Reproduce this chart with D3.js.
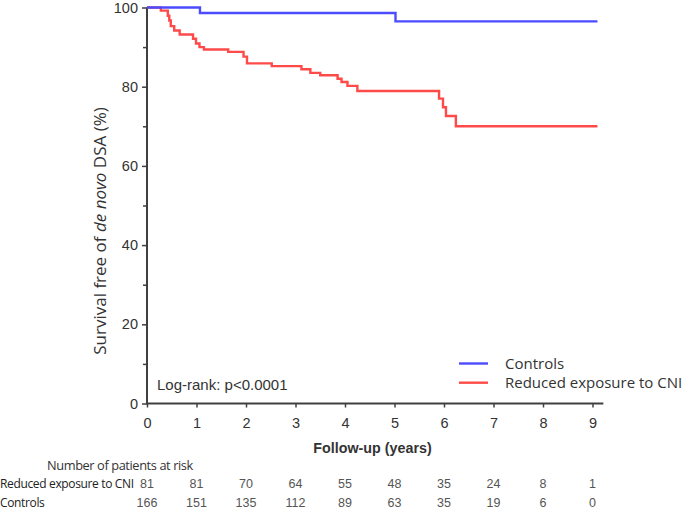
<!DOCTYPE html>
<html><head><meta charset="utf-8">
<script src="https://cdn.jsdelivr.net/npm/d3@7"></script>
<style>body{margin:0;background:#fff}svg{display:block}</style>
</head><body>
<script>
// Data
const controlsTimes = [0, 1.07, 5.02];
const controlsVals  = [100, 98.6, 96.5];
const reducedTimes = [0, 0.28, 0.42, 0.45, 0.48, 0.55, 0.66, 0.93, 0.99, 1.06, 1.15, 1.64, 1.95, 2.02, 2.52, 3.12, 3.3, 3.5, 3.85, 3.93, 4.05, 4.25, 5.9, 5.98, 6.04, 6.24];
const reducedVals  = [100, 99.2, 97.9, 96.7, 95.3, 94.2, 93.2, 92.1, 90.9, 90.0, 89.4, 88.8, 87.6, 85.9, 85.2, 84.4, 83.5, 82.9, 82.0, 81.2, 80.2, 78.9, 77.0, 74.8, 72.6, 70.0];
const endTime = 9.1;
const xTicks = [0,1,2,3,4,5,6,7,8,9];
const yTicks = [0,20,40,60,80,100];
const yMinor = [10,30,50,70,90];
const riskReduced = [81,81,70,64,55,48,35,24,8,1];
const riskControls = [166,151,135,112,89,63,35,19,6,0];
const seriesNames = ["Controls", "Reduced exposure to CNI"];

const W = 685, H = 512;
const svg = d3.select("body").append("svg").attr("width", W).attr("height", H);
const x = d3.scaleLinear().domain([0, 9]).range([147, 592.5]);
const y = d3.scaleLinear().domain([0, 100]).range([403.5, 7.5]);
const axisCol = "#404040";
const txtCol = "#333";
const arial = "Liberation Sans, Arial, sans-serif";
const cal = "Open Sans, Liberation Sans, sans-serif";

// axes lines
svg.append("line").attr("x1", x(0)).attr("x2", x(9.22)).attr("y1", y(0)).attr("y2", y(0))
  .attr("stroke", axisCol).attr("stroke-width", 2);
svg.append("line").attr("x1", x(0)).attr("x2", x(0)).attr("y1", y(0)+1).attr("y2", y(100))
  .attr("stroke", axisCol).attr("stroke-width", 2);

// x ticks
const xa = d3.axisBottom(x).tickValues(xTicks).tickSize(4).tickPadding(10).tickFormat(d3.format("d"));
const gx = svg.append("g").attr("transform", `translate(0,${y(0)})`).call(xa);
gx.select(".domain").remove();
gx.selectAll(".tick line").attr("stroke", axisCol).attr("stroke-width", 1.5);
gx.selectAll("text").attr("font-family", arial).attr("font-size", 14.5).attr("fill", txtCol);

// y ticks
const ya = d3.axisLeft(y).tickValues(yTicks).tickSize(5).tickPadding(4);
const gy = svg.append("g").attr("transform", `translate(${x(0)},0)`).call(ya);
gy.select(".domain").remove();
gy.selectAll(".tick line").attr("stroke", axisCol).attr("stroke-width", 1.5);
gy.selectAll("text").attr("font-family", arial).attr("font-size", 14.5).attr("fill", txtCol);
const gym = svg.append("g").attr("transform", `translate(${x(0)},0)`).call(d3.axisLeft(y).tickValues(yMinor).tickSize(4).tickFormat(""));
gym.select(".domain").remove();
gym.selectAll(".tick line").attr("stroke", axisCol).attr("stroke-width", 1.5);

// curves
function pts(ts, vs){ const p = ts.map((t,i)=>[t, vs[i]]); p.push([endTime, vs[vs.length-1]]); return p; }
const line = d3.line().x(d=>x(d[0])).y(d=>y(d[1])).curve(d3.curveStepAfter);
svg.append("path").attr("d", line(pts(reducedTimes, reducedVals))).attr("fill","none")
  .attr("stroke","#ff4a4a").attr("stroke-width",2.4);
svg.append("path").attr("d", line(pts(controlsTimes, controlsVals))).attr("fill","none")
  .attr("stroke","#4c4cff").attr("stroke-width",2.4);

// y title
const yt = svg.append("text").attr("transform", `translate(106,${231}) rotate(-90)`)
  .attr("text-anchor","middle").attr("font-family",cal)
  .attr("font-size",17).attr("fill",txtCol);
yt.append("tspan").text("Survival free of ");
yt.append("tspan").attr("font-style","italic").text("de novo");
yt.append("tspan").text(" DSA (%)");

// x title
svg.append("text").attr("x", 372.5).attr("y", 453).attr("text-anchor","middle")
  .attr("font-family",arial).attr("font-weight","bold")
  .attr("font-size",14.3).attr("fill",txtCol).text("Follow-up (years)");

// log-rank
svg.append("text").attr("x", 157).attr("y", 390).attr("font-family",arial)
  .attr("font-size",15).attr("fill",txtCol).text("Log-rank: p<0.0001");

// legend
const legCols = ["#4c4cff", "#ff4a4a"];
seriesNames.forEach((n,i)=>{
  const ly = 363.5 + i*19.2;
  svg.append("line").attr("x1",459).attr("x2",488).attr("y1",ly).attr("y2",ly)
    .attr("stroke",legCols[i]).attr("stroke-width",2.4);
  svg.append("text").attr("x",505).attr("y",ly+5.5).attr("font-family",cal)
    .attr("font-size",15).attr("fill",txtCol).text(n);
});

// at risk table
svg.append("text").attr("x", 47).attr("y", 469.5).attr("font-family", cal).attr("font-size", 12.8)
  .attr("fill", txtCol).attr("letter-spacing", -0.4).text("Number of patients at risk");
svg.append("text").attr("x", 0).attr("y", 488).attr("font-family", cal).attr("font-size", 12)
  .attr("fill", "#222").attr("letter-spacing", -0.35).text("Reduced exposure to CNI");
svg.append("text").attr("x", 0).attr("y", 507).attr("font-family", cal).attr("font-size", 12)
  .attr("fill", "#222").attr("letter-spacing", -0.35).text("Controls");
[riskReduced, riskControls].forEach((row, r)=>{
  svg.append("g").selectAll("text").data(row).join("text")
    .attr("x", (d,i)=>x(xTicks[i])).attr("y", 488 + r*19)
    .attr("text-anchor","middle").attr("font-family",arial)
    .attr("font-size",12.5).attr("fill","#555").text(d=>d);
});
</script>
</body></html>
